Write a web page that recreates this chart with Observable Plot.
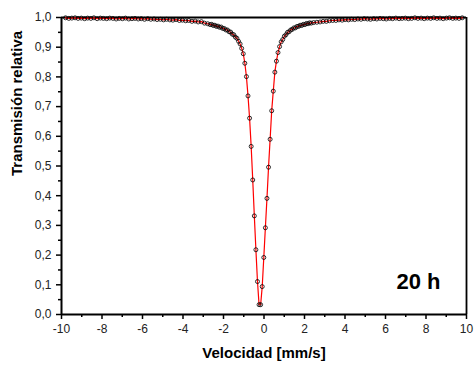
<!DOCTYPE html>
<html>
<head>
<meta charset="utf-8">
<script src="https://cdn.jsdelivr.net/npm/d3@7"></script>
<script src="https://cdn.jsdelivr.net/npm/@observablehq/plot@0.6"></script>
<style>
  html, body { margin: 0; padding: 0; background: #fff; }
  #chart { width: 474px; height: 371px; }
</style>
</head>
<body>
<div id="chart"></div>
<script>
const velocity = [
  -9.80, -9.64, -9.49, -9.33, -9.18, -9.02, -8.86, -8.71, -8.55, -8.40,
  -8.24, -8.08, -7.93, -7.77, -7.62, -7.46, -7.30, -7.15, -6.99, -6.84,
  -6.68, -6.52, -6.37, -6.21, -6.06, -5.90, -5.74, -5.59, -5.43, -5.28,
  -5.12, -4.96, -4.81, -4.65, -4.50, -4.34, -4.18, -4.03, -3.87, -3.72,
  -3.56, -3.40, -3.25, -3.09, -2.94, -2.78,
  -2.662, -2.584, -2.506, -2.428, -2.350, -2.272, -2.194, -2.116, -2.038, -1.960,
  -1.882, -1.804, -1.726, -1.648, -1.570, -1.492, -1.414, -1.336, -1.258, -1.180, -1.102,
  -1.024, -0.946, -0.868, -0.790, -0.712, -0.634, -0.556, -0.478, -0.400, -0.322,
  -0.244, -0.166, -0.088, -0.010, 0.068, 0.146, 0.224, 0.302, 0.380, 0.458,
  0.536, 0.614, 0.692,
  0.770, 0.848, 0.926, 1.004, 1.082, 1.160, 1.238, 1.316, 1.394, 1.472,
  1.550, 1.628, 1.706, 1.784, 1.862, 1.940, 2.018, 2.096, 2.174, 2.252, 2.330,
  2.45, 2.61, 2.77, 2.92, 3.08, 3.23, 3.39, 3.55, 3.70, 3.86,
  4.01, 4.17, 4.33, 4.48, 4.64, 4.79, 4.95, 5.11, 5.26, 5.42,
  5.57, 5.73, 5.89, 6.04, 6.20, 6.35, 6.51, 6.67, 6.82, 6.98,
  7.13, 7.29, 7.45, 7.60, 7.76, 7.91, 8.07, 8.23, 8.38, 8.54,
  8.69, 8.85, 9.01, 9.16, 9.32, 9.47, 9.63, 9.79
];
const transmission = [
  0.999, 0.997, 0.998, 0.999, 0.997, 0.998, 0.996, 0.998, 0.997, 0.999,
  0.996, 0.998, 0.997, 0.996, 0.998, 0.997, 0.995, 0.997, 0.996, 0.998,
  0.995, 0.996, 0.997, 0.995, 0.996, 0.994, 0.996, 0.994, 0.995, 0.993,
  0.994, 0.992, 0.994, 0.992, 0.991, 0.993, 0.990, 0.991, 0.989, 0.990,
  0.987, 0.988, 0.985, 0.986, 0.981, 0.979,
  0.976, 0.977, 0.973, 0.974, 0.970, 0.971, 0.967, 0.968, 0.963, 0.963,
  0.958, 0.958, 0.952, 0.951, 0.944, 0.942, 0.934, 0.930, 0.920, 0.911, 0.896,
  0.878, 0.846, 0.801, 0.736, 0.661, 0.566, 0.453, 0.332, 0.218, 0.111,
  0.033, 0.033, 0.094, 0.192, 0.292, 0.391, 0.496, 0.590, 0.686, 0.752,
  0.816, 0.853, 0.882,
  0.902, 0.918, 0.926, 0.937, 0.942, 0.950, 0.952, 0.958, 0.960, 0.965,
  0.965, 0.970, 0.970, 0.974, 0.973, 0.977, 0.976, 0.980, 0.979, 0.982, 0.981,
  0.983, 0.984, 0.985, 0.987, 0.987, 0.989, 0.990, 0.990, 0.992, 0.991,
  0.993, 0.992, 0.994, 0.993, 0.995, 0.994, 0.996, 0.995, 0.994, 0.996,
  0.995, 0.997, 0.996, 0.995, 0.997, 0.996, 0.998, 0.996, 0.997, 0.998,
  0.996, 0.997, 0.999, 0.997, 0.998, 0.996, 0.998, 0.997, 0.999, 0.997,
  0.998, 0.996, 0.998, 0.999, 0.997, 0.998, 0.997, 0.999
];
const xMajorTicks = [-10, -8, -6, -4, -2, 0, 2, 4, 6, 8, 10];
const xMinorTicks = [-9, -7, -5, -3, -1, 1, 3, 5, 7, 9];
const yMajorTicks = [0, 0.1, 0.2, 0.3, 0.4, 0.5, 0.6, 0.7, 0.8, 0.9, 1.0];
const yMinorTicks = [0.05, 0.15, 0.25, 0.35, 0.45, 0.55, 0.65, 0.75, 0.85, 0.95];
const xTitle = "Velocidad [mm/s]";
const yTitle = "Transmisión relativa";
const panelLabel = ["20 h"];
const panelLabelPos = {x: 7.63, y: 0.11};

const data = velocity.map((v, i) => ({v, t: transmission[i]}));
const fmtY = d => d.toFixed(1).replace(".", ",");

const chart = Plot.plot({
  width: 474,
  height: 371,
  marginLeft: 61,
  marginRight: 8,
  marginTop: 17,
  marginBottom: 57,
  x: {domain: [-10, 10]},
  y: {domain: [0, 1]},
  style: {fontFamily: "Arial, 'Liberation Sans', sans-serif", fontSize: "12px", color: "#222", background: "#fff", overflow: "visible"},
  marks: [
    Plot.axisX(xMajorTicks, {tickSize: 5, tickPadding: 5, tickFormat: d => String(d), label: null, fontSize: 12, strokeWidth: 1.5, stroke: "#000"}),
    Plot.axisX(xMinorTicks, {tickSize: 3, tickFormat: () => "", label: null, strokeWidth: 1.5, stroke: "#000"}),
    Plot.axisY(yMajorTicks, {tickSize: 5, tickPadding: 5, tickFormat: fmtY, label: null, fontSize: 12, strokeWidth: 1.5, stroke: "#000"}),
    Plot.axisY(yMinorTicks, {tickSize: 3, tickFormat: () => "", label: null, strokeWidth: 1.5, stroke: "#000"}),
    Plot.ruleY([1], {stroke: "#000", strokeWidth: 1.8}),
    Plot.ruleX([10], {stroke: "#000", strokeWidth: 1.8}),
    Plot.line(data, {x: "v", y: "t", stroke: "#ff0000", strokeWidth: 1.2}),
    Plot.dot(data, {x: "v", y: "t", r: 2, stroke: "#000", strokeWidth: 0.8, fill: "none"}),
    Plot.ruleY([0], {stroke: "#000", strokeWidth: 2}),
    Plot.ruleX([-10], {stroke: "#000", strokeWidth: 2}),
    Plot.text(panelLabel, {x: () => panelLabelPos.x, y: () => panelLabelPos.y, text: d => d, fontSize: 22, fontWeight: "bold", fill: "#000"}),
    Plot.text([xTitle], {frameAnchor: "bottom", dy: 43, text: d => d, fontSize: 15, fontWeight: "bold", fill: "#000"}),
    Plot.text([yTitle], {frameAnchor: "left", dx: -44, dy: 10, rotate: -90, text: d => d, fontSize: 15, fontWeight: "bold", fill: "#000"})
  ]
});
document.getElementById("chart").appendChild(chart);
</script>
</body>
</html>
